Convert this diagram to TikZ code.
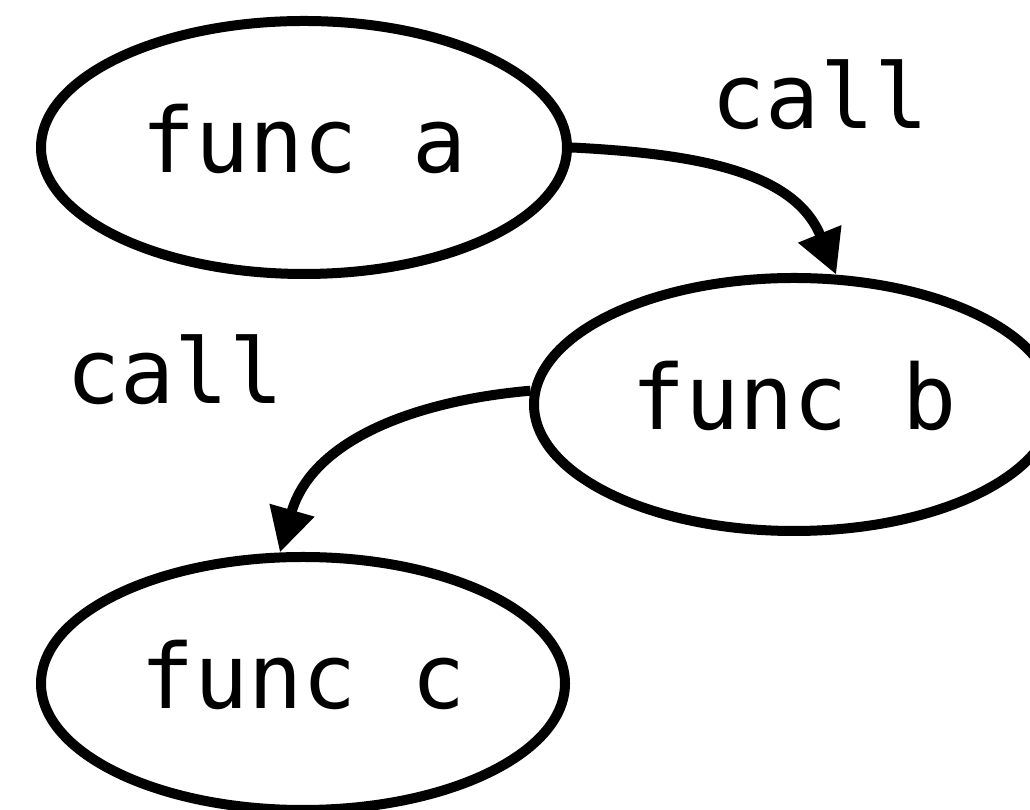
\documentclass[tikz,border=0pt]{standalone}
\usepackage{fontspec}
\setmonofont{DejaVu Sans Mono}
\usetikzlibrary{shapes.geometric,arrows.meta}

\begin{document}
\begin{tikzpicture}[x=1pt,y=1pt,>={Triangle[length=44pt,width=44pt]},
  line width=10pt,
  func/.style={draw,ellipse,inner sep=0pt,minimum height=253pt,text depth=19pt,
    font=\ttfamily\fontsize{90}{100}\selectfont},
  lbl/.style={font=\ttfamily\fontsize{90}{100}\selectfont}]
\useasboundingbox (0,0) rectangle (1030,810);
\node[func,minimum width=526pt] (a) at (304,662.5) {func a};
\node[func,minimum width=520pt] (b) at (794,405.5) {func b};
\node[func,minimum width=524pt] (c) at (303,126.5) {func c};
\draw[->] (a.east) to[out=-3,in=112] (b.72);
\draw[->] (b.177) to[out=185,in=74] (c.100);
\node[lbl] (callab) at (820,715) {call};
\node[lbl] (callbc) at (175,440) {call};
\end{tikzpicture}
\end{document}
